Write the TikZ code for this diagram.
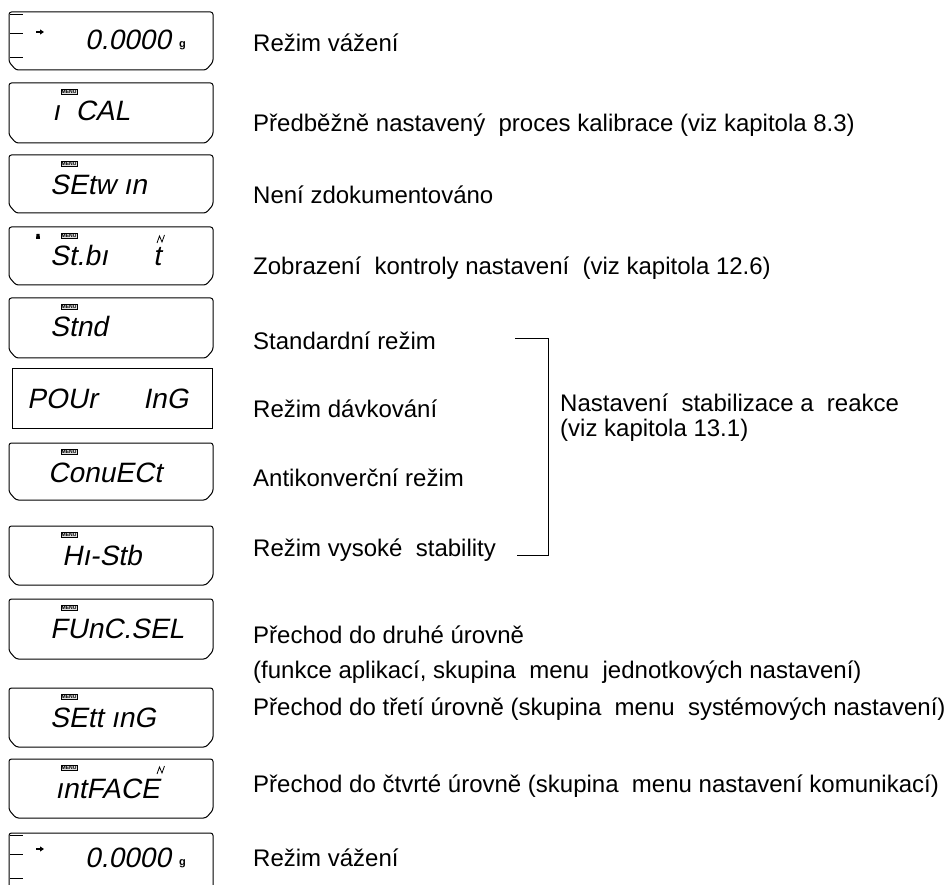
\documentclass[tikz,border=0pt]{standalone}
\usepackage{fontspec}
\setmainfont{Liberation Sans}
\newfontfamily\segfont[FakeSlant=0.2]{Liberation Sans}
\usetikzlibrary{arrows.meta}

\begin{document}
\begin{tikzpicture}[x=1pt,y=-1pt,
  lcd/.style={line width=1pt, rounded corners=2.5pt},
  seg/.style={anchor=base west, inner sep=0pt, font=\segfont\fontsize{28}{28}\selectfont},
  unit/.style={anchor=base west, inner sep=0pt, font=\bfseries\fontsize{11}{11}\selectfont},
  desc/.style={anchor=west, inner sep=0pt, font=\fontsize{24}{25}\selectfont},
  menutag/.style={draw, fill=gray!25, line width=0.4pt, inner sep=0.7pt,
    font=\bfseries\fontsize{5}{5}\selectfont}]
\useasboundingbox (0,0) rectangle (951,885);

% display frames with chamfered lower corners
\foreach \t/\h in {12/58,83/60,155/58,227/58,298/60,443/57,526/59,599/60,688/59,759/59} {
    \draw[lcd] (9,\t+24) -- (9,\t) -- (213,\t) -- (213,\t+\h-8) -- (206,\t+\h)
        -- (16,\t+\h) -- (9,\t+\h-8) -- cycle;
}
% plain frame (dosing mode)
\draw[line width=1pt] (12,369) rectangle (212,428);
% last frame, cut by the page edge
\draw[lcd] (9,885) -- (9,833) -- (213,833) -- (213,885);

% MENU tags
\foreach \t/\n in {83/2,155/3,227/4,298/5,443/7,526/8,599/9,688/10,759/11} {
    \node[menutag] (menu\n) at (69,\t+9) {MENU};
}

% weighing display, top and bottom
\foreach \t/\n/\b in {12/a/50,833/b/867} {
    \foreach \d in {2,21,45} {
        \draw[line width=0.8pt] (10,\t+\d) -- (23,\t+\d);
    }
    \coordinate (arr\n) at (36,\b-18);
    \draw[-{Triangle[length=4pt,width=5pt]}, line width=1.4pt] (arr\n) -- ++(8,0);
    \node[seg] (zero\n) at (85,\b) {0.0000};
    \node[unit] (gram\n) at (179,\b-2) {g};
}

% menu displays
\node[seg] (ical) at (52,121) {ı~~CAL};
\node[seg] (setwin) at (50,195) {SEtw~ın};
\node[seg] (stbit) at (50,266) {St.bı};
\node[seg] (stbitt) at (153,266) {t};
\node[seg] (stnd) at (50,337) {Stnd};
\node[seg] (pour) at (27,408) {POUr};
\node[seg] (ing) at (143,408) {InG};
\node[seg] (convect) at (48,482) {ConuECt};
\node[seg] (histb) at (62,565) {Hı-Stb};
\node[seg] (funcsel) at (50,638) {FUnC.SEL};
\node[seg] (setting) at (50,727) {SEtt~ınG};
\node[seg] (intface) at (55,798) {ıntFACE};

% small marks: weight symbol and stability marks
\fill (36,239) -- (40,239) -- (39.5,234) -- (36.5,234) -- cycle;
\draw[line width=0.8pt] (157,243) -- (159.5,236) -- (162,242) -- (164.5,235);
\draw[line width=0.8pt] (157,774) -- (159.5,767) -- (162,773) -- (164.5,766);

% descriptions
\node[desc] (l1) at (253,43) {Režim vážení};
\node[desc] (l2) at (253,125) {Předběžně nastavený~ proces kalibrace (viz kapitola 8.3)};
\node[desc] (l3) at (253,195) {Není zdokumentováno};
\node[desc] (l4) at (253,268) {Zobrazení~ kontroly nastavení~ (viz kapitola 12.6)};
\node[desc] (l5) at (253,341) {Standardní režim};
\node[desc] (l6) at (253,409) {Režim dávkování};
\node[desc] (l7) at (253,478) {Antikonverční režim};
\node[desc] (l8) at (253,550) {Režim vysoké~ stability};
\node[desc] (l9) at (253,635) {Přechod do druhé úrovně};
\node[desc] (l10) at (253,672) {(funkce aplikací, skupina~ menu~ jednotkových nastavení)};
\node[desc] (l11) at (253,709) {Přechod do třetí úrovně (skupina~ menu~ systémových nastavení)};
\node[desc] (l12) at (253,786) {Přechod do čtvrté úrovně (skupina~ menu nastavení komunikací)};
\node[desc] (l13) at (253,858) {Režim vážení};

% bracket for the stabilisation modes
\coordinate (brt0) at (515,338);
\coordinate (brt1) at (548,338);
\coordinate (brb1) at (548,555);
\coordinate (brb0) at (517,555);
\draw[line width=0.9pt] (brt0) -- (brt1) -- (brb1) -- (brb0);
\node[desc, align=left] (stab) at (560,418) {Nastavení~ stabilizace a~ reakce\\(viz kapitola 13.1)};
\end{tikzpicture}
\end{document}
